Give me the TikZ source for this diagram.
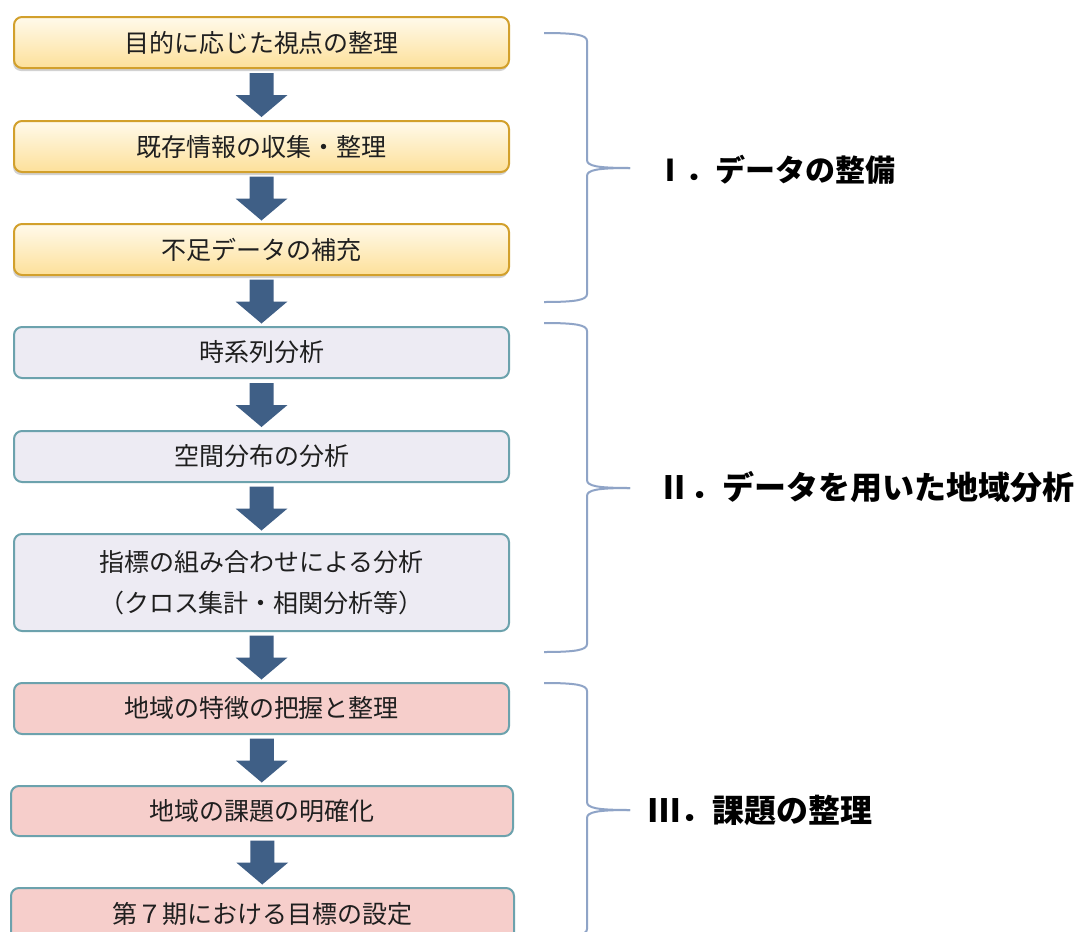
\documentclass[tikz,border=0pt]{standalone}
\usepackage{fontspec}
\setmainfont{Noto Sans CJK JP}
\usepackage{xcolor}
\usetikzlibrary{positioning,shadows,calc}

\definecolor{goldline}{HTML}{D2A02C}
\definecolor{creamtop}{HTML}{FFFAEB}
\definecolor{creambot}{HTML}{FDE09A}
\definecolor{tealline}{HTML}{6CA2AD}
\definecolor{lilacfill}{HTML}{EDEBF3}
\definecolor{rosefill}{HTML}{F6CECB}
\definecolor{arrowblue}{HTML}{3F5F86}
\definecolor{bracecol}{HTML}{8FA4C7}

\tikzset{
  stepbox/.style={draw, rounded corners=8pt, line width=2pt, minimum width=495pt,
    minimum height=51pt, inner sep=0pt, align=center, text=black!88,
    font=\fontsize{25}{41}\selectfont},
  prepbox/.style={stepbox, draw=goldline, top color=creamtop, bottom color=creambot,
    drop shadow={shadow xshift=-1pt, shadow yshift=-3pt, opacity=0.35, fill=black!50}},
  anabox/.style={stepbox, draw=tealline, fill=lilacfill},
  taskbox/.style={stepbox, draw=tealline, fill=rosefill},
  downarrow/.style={fill=arrowblue},
  heading/.style={anchor=west, text=black, font=\fontsize{31}{31}\selectfont\bfseries},
  bracket/.style={draw=bracecol, line width=2pt}
}

\begin{document}
\begin{tikzpicture}[x=1pt, y=-1pt]
    \path[use as bounding box, fill=white] (0,0) rectangle (1080,932);

    % I. data
    \node[prepbox] (b1) at (261.5,42.5) {目的に応じた視点の整理};
    \node[prepbox] (b2) at (261.5,146.5) {既存情報の収集・整理};
    \node[prepbox] (b3) at (261.5,249.5) {不足データの補充};

    % II. analysis
    \node[anabox] (b4) at (261.5,352.5) {時系列分析};
    \node[anabox] (b5) at (261.5,456.5) {空間分布の分析};
    \node[anabox, minimum height=97pt] (b6) at (261.5,582.5) {指標の組み合わせによる分析\\（クロス集計・相関分析等）};

    % III. tasks
    \node[taskbox] (b7) at (261.5,708.5) {地域の特徴の把握と整理};
    \node[taskbox, minimum width=502pt, minimum height=50pt] (b8) at (262,811) {地域の課題の明確化};
    \node[taskbox, minimum width=503pt, minimum height=52pt] (b9) at (262.5,914) {第７期における目標の設定};

    % block arrows
    \foreach \i [evaluate=\i as \j using int(\i+1)] in {1,...,8}{
        \coordinate (m\i) at ($(b\i.south)!0.5!(b\j.north)$);
        \fill[downarrow] ($(m\i)+(-12,-21.5)$) -- ++(24,0) -- ++(0,22) -- ++(14,0)
            -- ($(m\i)+(0,22.5)$) -- ($(m\i)+(-26,0.5)$) -- ++(14,0) -- cycle;
    }

    % braces: top, tip, bottom
    \foreach \ya/\ym/\yb in {33/168/302, 323/488/652, 683/810/937}{
        \draw[bracket] (544,\ya) .. controls (576,\ya) and (587,\ya+2) .. (587,\ya+8)
            -- (587,\ym-8) .. controls (587,\ym-2) and (597,\ym) .. (630,\ym);
        \draw[bracket] (630,\ym) .. controls (597,\ym) and (587,\ym+2) .. (587,\ym+8)
            -- (587,\yb-8) .. controls (587,\yb-2) and (576,\yb) .. (544,\yb);
    }

    \node[heading, font=\fontsize{30}{30}\selectfont\bfseries] (h1) at (652,170) {Ⅰ．データの整備};
    \node[heading, font=\fontsize{32}{32}\selectfont\bfseries] (h2) at (655,487) {Ⅱ．データを用いた地域分析};
    \node[heading, font=\fontsize{32}{32}\selectfont\bfseries] (h3) at (645,810) {Ⅲ．課題の整理};
\end{tikzpicture}
\end{document}
